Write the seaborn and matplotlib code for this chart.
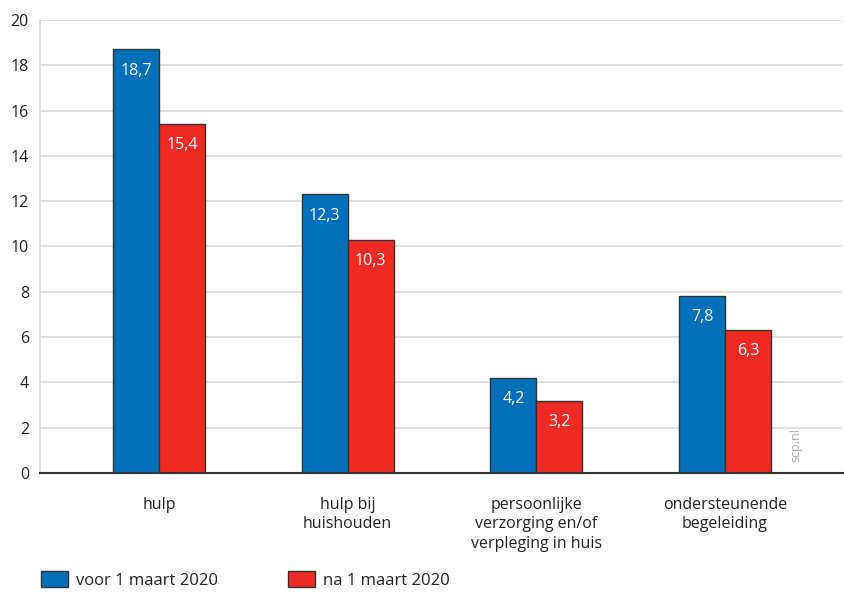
import matplotlib
matplotlib.use("Agg")
import matplotlib.pyplot as plt
import seaborn as sns
import pandas as pd
from matplotlib.patches import Patch

categories = ["hulp", "hulp bij\nhuishouden", "persoonlijke\nverzorging en/of\nverpleging in huis", "ondersteunende\nbegeleiding"]
series_names = ["voor 1 maart 2020", "na 1 maart 2020"]
voor = [18.7, 12.3, 4.2, 7.8]
na = [15.4, 10.3, 3.2, 6.3]
yticks = [0, 2, 4, 6, 8, 10, 12, 14, 16, 18, 20]

colors = ["#0070BA", "#EE2A24"]

df = pd.DataFrame({
    "categorie": categories * 2,
    "periode": [series_names[0]] * 4 + [series_names[1]] * 4,
    "waarde": voor + na,
})

sns.set_style("white")
plt.rcParams["font.family"] = ["Open Sans", "DejaVu Sans"]

fig = plt.figure(figsize=(8.44, 5.97), dpi=100)
ax = fig.add_axes([40/844, 1-473/597, 803/844, 453/597])

sns.barplot(data=df, x="categorie", y="waarde", hue="periode", order=categories,
            hue_order=series_names, palette=colors, width=0.487, ax=ax,
            edgecolor="#333333", linewidth=1.0, legend=False, saturation=1)

for cont in ax.containers:
    labels = [f"{v:.1f}".replace(".", ",") for v in cont.datavalues]
    ax.bar_label(cont, labels=labels, padding=-21, color="white", fontsize=11.5)

ax.set_ylim(0, 20)
ax.set_xlim(-0.63, 3.625)
ax.set_yticks(yticks)
ax.set_yticklabels([str(t) for t in yticks], fontsize=11.5, color="#222222")
ax.tick_params(axis="y", length=0, pad=8)
ax.tick_params(axis="x", length=0, pad=17)
ax.set_xticks(range(len(categories)))
ax.set_xticklabels(categories, fontsize=11.5, color="#222222", linespacing=1.3)
ax.set_xlabel("")
ax.set_ylabel("")
ax.yaxis.grid(True, color="#d9d9d9", linewidth=1.2)
ax.set_axisbelow(True)
for s in ["top", "right"]:
    ax.spines[s].set_visible(False)
ax.spines["left"].set_color("#d9d9d9")
ax.spines["left"].set_linewidth(1.2)
ax.spines["bottom"].set_color("#333333")
ax.spines["bottom"].set_linewidth(1.5)

fig.text(796/844, 1-445/597, "scp.nl", rotation=90, color="#aaaaaa", fontsize=9,
         ha="center", va="center")

handles = [Patch(facecolor=colors[0], edgecolor="#333333", linewidth=1.0),
           Patch(facecolor=colors[1], edgecolor="#333333", linewidth=1.0)]
fig.legend(handles, series_names, loc="lower left", bbox_to_anchor=(26/844, -0.012),
           ncol=2, frameon=False, fontsize=12, handlelength=1.6, handleheight=1.1,
           columnspacing=4.2, handletextpad=0.5, labelcolor="#222222")

fig.savefig("out.png", dpi=100)
